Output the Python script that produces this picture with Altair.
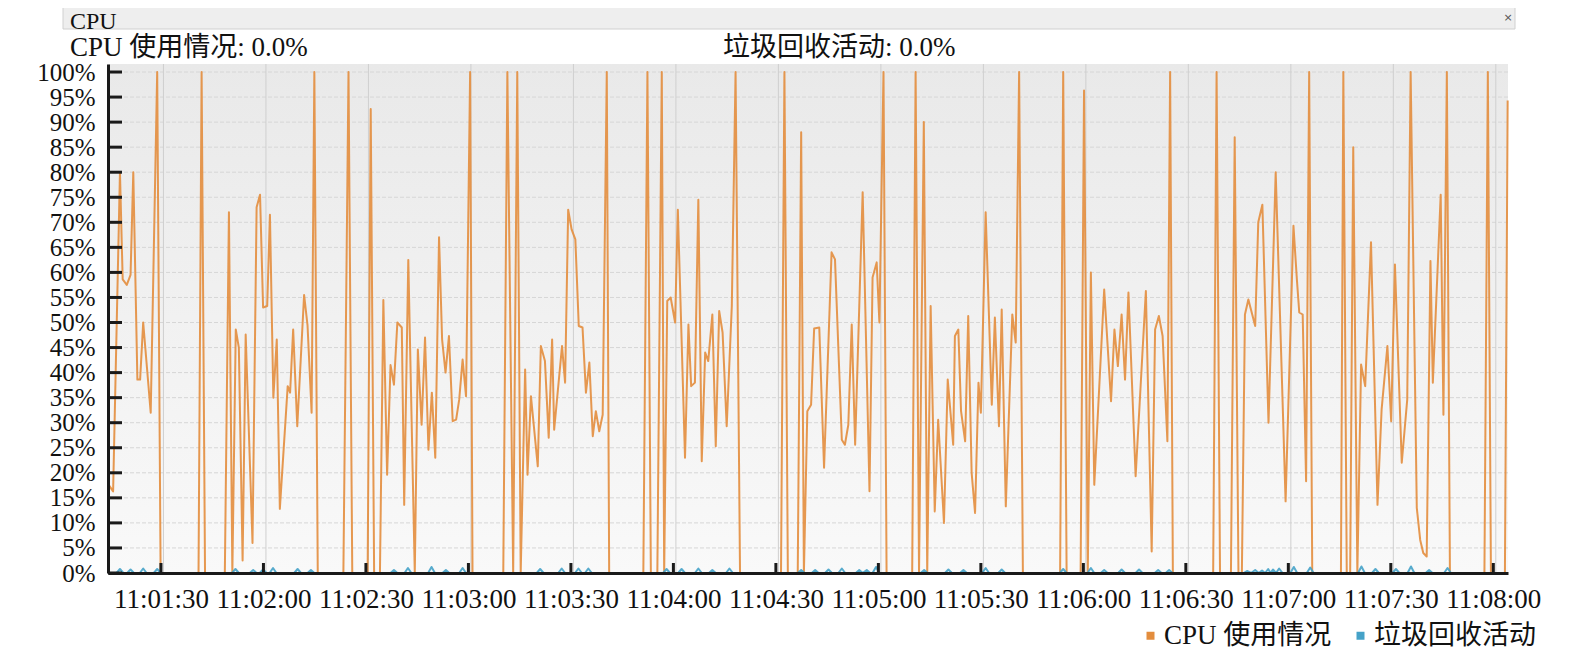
import altair as alt
import pandas as pd

# ---- data (t = seconds after 11:00:00, v = percent) ----
cpu_t = [74.8, 76.0, 78.0, 78.8, 80.0, 81.1, 81.9, 83.1, 83.9, 84.8, 87.0, 88.9, 89.9,
         101.0, 101.9, 102.9, 108.7, 109.9, 110.9, 111.9, 112.8, 113.9, 114.8, 116.8,
         118.0, 119.0, 119.9, 121.1, 121.9, 122.9, 123.9, 124.8, 127.1, 127.8, 128.7,
         129.9, 131.9, 132.9, 134.1, 134.9, 135.9, 143.4, 144.9, 146.0, 150.5, 151.4,
         152.4, 154.1, 155.1, 156.2, 157.2, 158.2, 159.2, 160.5, 161.2, 162.4, 164.3,
         165.2, 166.3, 167.3, 168.3, 169.3, 170.3, 171.4, 172.3, 173.3, 174.3, 175.4,
         176.4, 177.3, 178.3, 179.3, 180.5, 181.2, 190.2, 191.4, 193.1, 194.3, 195.3,
         196.6, 197.3, 198.3, 200.3, 201.2, 202.4, 203.5, 204.5, 205.1, 207.4, 208.3,
         209.2, 210.2, 211.3, 212.3, 213.4, 214.4, 215.4, 216.4, 217.3, 218.3, 219.3,
         220.5, 221.2, 231.2, 232.4, 233.4, 235.3, 236.6, 237.3, 238.2, 239.2, 240.5,
         241.3, 243.4, 244.4, 245.2, 246.3, 247.3, 248.3, 249.3, 250.2, 251.4, 252.4,
         253.4, 254.4, 255.6, 257.1, 258.2, 259.5, 271.5, 272.5, 273.5, 276.4, 277.4,
         278.2, 279.2, 280.3, 281.2, 282.7, 284.1, 286.3, 287.3, 289.3, 290.2, 291.2,
         292.2, 293.2, 295.4, 297.4, 298.3, 299.5, 300.3, 301.5, 302.4, 309.9, 310.9,
         311.9, 313.3, 314.3, 315.3, 316.5, 317.5, 319.2, 320.3, 321.9, 322.4, 323.4,
         324.2, 325.4, 326.3, 327.3, 328.3, 329.3, 330.0, 331.4, 333.2, 334.1, 335.3,
         336.1, 337.3, 339.2, 340.2, 341.2, 342.3, 353.2, 354.1, 355.1, 359.2, 360.2,
         361.3, 362.2, 363.2, 366.1, 368.1, 369.1, 370.1, 371.2, 372.2, 373.2, 375.3,
         378.3, 380.0, 381.0, 382.1, 383.2, 384.6, 385.4, 386.2, 398.0, 399.0, 400.0,
         403.2, 404.3, 405.4, 406.4, 407.3, 408.3, 410.3, 411.2, 412.4, 414.2, 416.3,
         419.2, 421.5, 422.5, 423.2, 424.2, 425.2, 426.1, 427.0, 435.4, 436.1, 437.1,
         438.1, 439.0, 440.2, 441.3, 442.5, 444.2, 446.1, 447.3, 449.0, 450.1, 451.2,
         453.2, 454.8, 455.8, 457.6, 458.6, 459.5, 460.5, 461.6, 462.3, 464.6, 465.4,
         466.4, 467.3, 477.4, 478.4, 479.3, 483.4, 484.2]
cpu_v = [17.5, 16.3, 80, 58.6, 57.5, 59.5, 80, 38.6, 38.6, 50, 32, 100, 0,
         0, 100, 0, 0, 72, 0, 48.6, 45, 2.5, 47.6, 6,
         73, 75.5, 53, 53.3, 71.5, 35, 46.6, 12.8, 37.3, 36, 48.6,
         29.3, 55.5, 49.5, 32, 100, 0, 0, 100, 0, 0, 92.6,
         0, 0, 54.5, 19.6, 41.5, 37.6, 50, 49, 13.6, 62.5, 0,
         44.6, 29.6, 47, 24.6, 36, 23, 67, 46.6, 40, 47.3, 30.3,
         30.6, 34.6, 42.6, 35.3, 100, 0, 0, 100, 0, 100, 0,
         40.6, 19.6, 35.3, 21.3, 45.3, 42.3, 27, 46.6, 28.6, 45.3, 38,
         72.5, 68.6, 66.6, 49.3, 49, 36, 42, 27.3, 32.3, 28.3, 31.6,
         100, 0, 0, 100, 0, 0, 100, 0, 54.3, 55, 50,
         72.5, 23, 49.6, 37.3, 38, 74.5, 22.3, 44, 42.3, 51.6, 25.3,
         52.3, 48, 29.3, 53.3, 100, 0, 0, 100, 0, 0, 88,
         0, 32.3, 33.6, 48.8, 49, 21, 64, 62.6, 26.6, 25.6, 29.6,
         49.6, 25.6, 76, 16.3, 59, 62, 50, 100, 0, 0, 100,
         0, 90, 0, 53.3, 12.3, 30.6, 10, 38.6, 25.6, 47.3, 48.6,
         32.3, 26.3, 51.3, 20, 12, 38, 32, 72, 33.6, 51, 29.3,
         52.6, 13.3, 51.6, 46, 100, 0, 0, 100, 0, 0, 96.3,
         0, 60, 17.6, 56.6, 34.3, 48.6, 41.3, 51.6, 38.6, 56, 19.3,
         56.3, 4.3, 48.6, 51.3, 47.3, 26.3, 100, 0, 0, 100, 0,
         0, 87, 0, 0, 51.6, 54.6, 49.3, 70, 73.5, 30, 80,
         14.3, 69.3, 58.6, 52, 51.6, 18.3, 100, 0, 0, 100, 0,
         0, 85, 0, 41.6, 37.3, 66, 13.6, 32.6, 45.3, 30.3, 61.6,
         22, 34.6, 100, 13, 6.6, 4, 3.3, 62.3, 38, 75.5, 31.6,
         100, 0, 0, 100, 0, 0, 94.3]

gc_t = [74.8,
        77.0, 78.0, 79.0, 80.1, 81.1, 82.1, 83.8, 84.8, 85.8, 87.9, 88.9, 89.9,
        110.8, 111.8, 112.8, 116.0, 117.0, 118.0, 118.9, 119.9, 120.9, 121.8, 122.8, 123.8,
        129.0, 130.0, 131.0, 132.9, 133.9, 134.9, 157.2, 158.2, 159.2, 161.3, 162.3, 163.3,
        168.2, 169.2, 170.2, 172.4, 173.4, 174.4, 177.3, 178.3, 179.3,
        200.0, 201.0, 202.0, 206.3, 207.3, 208.3, 211.2, 212.2, 213.2, 214.1, 215.1, 216.1,
        237.0, 238.0, 239.0, 241.4, 242.4, 243.4, 246.3, 247.3, 248.3, 250.4, 251.4, 252.4,
        255.4, 256.4, 257.4, 276.4, 277.4, 278.4, 280.5, 281.5, 282.5, 284.4, 285.4, 286.4,
        288.3, 289.3, 290.3, 293.4, 294.4, 295.4, 296.6, 297.6, 298.3, 299.3, 300.3,
        312.4, 313.4, 314.4, 319.5, 320.5, 321.5, 323.9, 324.9, 325.9, 330.4, 331.4, 332.4,
        335.1, 336.1, 337.1, 353.1, 354.1, 355.1, 361.2, 362.2, 363.2, 365.1, 366.1, 367.1,
        370.2, 371.2, 372.2, 375.3, 376.3, 377.3, 380.9, 381.9, 382.9, 384.1, 385.1, 386.1,
        406.9, 407.9, 409.1, 410.3, 411.3, 412.3, 413.2, 414.1, 414.8, 415.5, 416.4, 417.3,
        418.3, 420.6, 421.6, 422.6, 425.4, 426.4, 427.4, 440.4, 441.4, 442.4, 444.5, 445.5,
        446.5, 450.5, 451.5, 452.5, 454.9, 455.9, 456.9, 460.2, 461.2, 462.2, 465.6, 466.6,
        467.6, 484.2]
gc_v = [0,
        0, 0.8, 0, 0, 0.7, 0, 0, 0.9, 0, 0, 0.8, 0,
        0, 0.8, 0, 0, 0.6, 0, 0, 0.7, 0, 0, 1.0, 0,
        0, 0.8, 0, 0, 0.6, 0, 0, 0.6, 0, 0, 1.0, 0,
        0, 1.2, 0, 0, 0.6, 0, 0, 1.0, 0,
        0, 0.8, 0, 0, 0.9, 0, 0, 0.9, 0, 0, 0.9, 0,
        0, 0.8, 0, 0, 0.8, 0, 0, 0.9, 0, 0, 0.6, 0,
        0, 0.9, 0, 0, 0.6, 0, 0, 0.6, 0, 0, 0.7, 0,
        0, 0.9, 0, 0, 0.6, 0, 0.6, 0, 0, 1.2, 0,
        0, 0.6, 0, 0, 0.7, 0, 0, 0.6, 0, 0, 1.0, 0,
        0, 0.7, 0, 0, 0.8, 0, 0, 1.0, 0, 0, 0.6, 0,
        0, 0.7, 0, 0, 0.7, 0, 0, 0.6, 0, 0, 0.6, 0,
        0, 0.4, 0, 0.6, 0, 0.5, 0, 0.8, 0, 0.7, 0, 0.9,
        0, 0, 1.2, 0, 0, 1.1, 0, 0, 1.3, 0, 0, 0.8,
        0, 0, 0.8, 0, 0, 1.3, 0, 0, 0.6, 0, 0, 1.0,
        0, 0]

series_names = ["CPU 使用情况", "垃圾回收活动"]
series_colors = ["#E38D3D", "#45A2C8"]
x_tick_values = [90, 120, 150, 180, 210, 240, 270, 300, 330, 360, 390, 420, 450, 480]
y_tick_values = [0, 5, 10, 15, 20, 25, 30, 35, 40, 45, 50, 55, 60, 65, 70, 75, 80, 85, 90, 95, 100]
x_domain = [74.5, 484.3]
y_domain = [0, 101.6]
header_title = "CPU"
header_left = "CPU 使用情况: 0.0%"
header_right = "垃圾回收活动: 0.0%"

FONT = "Liberation Serif, Noto Sans CJK SC"
W, H = 1400, 509

df = pd.concat([
    pd.DataFrame({"t": cpu_t, "v": cpu_v, "series": series_names[0]}),
    pd.DataFrame({"t": gc_t, "v": gc_v, "series": series_names[1]}),
], ignore_index=True)

xs = alt.Scale(domain=x_domain, nice=False, zero=False)
ys = alt.Scale(domain=y_domain, nice=False, zero=False)
cs = alt.Scale(domain=series_names, range=series_colors)

x_axis = alt.Axis(values=x_tick_values, grid=False, ticks=False, title=None,
                  labelExpr="timeFormat(datetime(2024, 0, 1, 11, 0, datum.value), '%H:%M:%S')",
                  labelFont=FONT, labelFontSize=27, labelColor="#111111",
                  labelPadding=13, labelFlush=False, labelOverlap=False,
                  domainColor="#1a1a1a", domainWidth=3, zindex=1)
y_axis = alt.Axis(values=y_tick_values, grid=False, ticks=False, title=None,
                  labelExpr="datum.value + '%'",
                  labelFont=FONT, labelFontSize=25, labelColor="#111111",
                  labelPadding=13, labelOverlap=False, labelFlush=False,
                  domainColor="#1a1a1a", domainWidth=3, zindex=1)
legend = alt.Legend(title=None, orient="none", legendX=1029, legendY=558,
                    direction="horizontal", symbolType="square",
                    symbolSize=64, symbolOpacity=1, symbolStrokeWidth=0,
                    labelFont=FONT, labelFontSize=27, labelLimit=500,
                    labelColor="#111111", labelOffset=0,
                    columnPadding=15, padding=0)

one = pd.DataFrame({"k": [0]})

bg = alt.Chart(one).mark_rect(
    color=alt.Gradient(gradient="linear",
                       stops=[alt.GradientStop(color="#e9e9e9", offset=0),
                              alt.GradientStop(color="#f9f9f9", offset=1)],
                       x1=0, x2=0, y1=0, y2=1)
).encode(x=alt.value(0), x2=alt.value(W), y=alt.value(0), y2=alt.value(H))

hgrid = alt.Chart(pd.DataFrame({"v": y_tick_values})).mark_rule(
    color="#d6d6d6", strokeWidth=1, strokeDash=[4, 2]
).encode(y=alt.Y("v:Q", scale=ys, axis=y_axis))

vgrid = alt.Chart(pd.DataFrame({"t": x_tick_values})).mark_rule(
    color="#cfcfcf", strokeWidth=1, xOffset=2.5
).encode(x=alt.X("t:Q", scale=xs, axis=x_axis))

lines = alt.Chart(df).mark_line(strokeWidth=2, opacity=0.9, strokeJoin="round").encode(
    x=alt.X("t:Q", scale=xs, axis=x_axis),
    y=alt.Y("v:Q", scale=ys, axis=y_axis),
    color=alt.Color("series:N", scale=cs, legend=legend),
)

legend_layer = alt.Chart(pd.DataFrame({"series": series_names})).mark_square(
    size=0, opacity=0, filled=True
).encode(
    x=alt.value(0), y=alt.value(0),
    color=alt.Color("series:N", scale=cs, legend=legend),
)

yticks = alt.Chart(pd.DataFrame({"v": y_tick_values})).mark_tick(
    orient="horizontal", size=14, thickness=3, color="#1a1a1a", opacity=1
).encode(y=alt.Y("v:Q", scale=ys, axis=y_axis), x=alt.value(7))

xticks = alt.Chart(pd.DataFrame({"t": x_tick_values})).mark_tick(
    orient="vertical", size=10, thickness=3, color="#1a1a1a", opacity=1
).encode(x=alt.X("t:Q", scale=xs, axis=x_axis), y=alt.value(H - 5))

head_bar = alt.Chart(one).mark_rect(fill="#eeeeee", stroke="#d0d0d0", strokeWidth=1).encode(
    x=alt.value(-45), x2=alt.value(1407), y=alt.value(-59), y2=alt.value(-35))

head_title = alt.Chart(pd.DataFrame({"s": [header_title]})).mark_text(
    font=FONT, fontSize=24, align="left", baseline="alphabetic", color="#111111"
).encode(text="s:N", x=alt.value(-38), y=alt.value(-35.5))

head_close = alt.Chart(pd.DataFrame({"s": ["×"]})).mark_text(
    font="DejaVu Sans", fontSize=11, align="center", baseline="middle", color="#555555"
).encode(text="s:N", x=alt.value(1400), y=alt.value(-46))

head_l = alt.Chart(pd.DataFrame({"s": [header_left]})).mark_text(
    font=FONT, fontSize=27, align="left", baseline="alphabetic", color="#111111"
).encode(text="s:N", x=alt.value(-38), y=alt.value(-8.5))

head_r = alt.Chart(pd.DataFrame({"s": [header_right]})).mark_text(
    font=FONT, fontSize=27, align="left", baseline="alphabetic", color="#111111"
).encode(text="s:N", x=alt.value(615), y=alt.value(-8.5))

chart = alt.layer(bg, hgrid, vgrid, lines, legend_layer, yticks, xticks,
                  head_bar, head_title, head_close, head_l, head_r).properties(
    width=W, height=H,
    autosize=alt.AutoSizeParams(type="none"),
    padding={"left": 100, "top": 56, "right": 59, "bottom": 76},
    background="white",
).configure_view(stroke=None)

chart.save("out.html", embed_options={"renderer": "svg", "actions": False})
